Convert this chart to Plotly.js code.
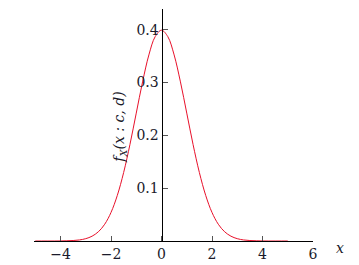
<!DOCTYPE html>
<html>
<head>
<meta charset="utf-8">
<script src="https://cdn.plot.ly/plotly-3.0.1.min.js"></script>
<style>html,body{margin:0;padding:0;background:#fff;}#chart{width:359px;height:265px;}</style>
</head>
<body>
<div id="chart"></div>
<script>
// Values (density curve)
const xValues = [-5, -4.75, -4.5, -4.25, -4, -3.75, -3.5, -3.25, -3, -2.75, -2.5, -2.25, -2, -1.75, -1.5, -1.25, -1, -0.75, -0.5, -0.25, 0,
                 0.25, 0.5, 0.75, 1, 1.25, 1.5, 1.75, 2, 2.25, 2.5, 2.75, 3, 3.25, 3.5, 3.75, 4, 4.25, 4.5, 4.75, 5];
const yValues = [0.0000, 0.0000, 0.0000, 0.0000, 0.0001, 0.0004, 0.0009, 0.0020, 0.0044, 0.0091, 0.0175, 0.0317, 0.0540, 0.0863, 0.1295, 0.1826, 0.2420, 0.3011, 0.3521, 0.3867, 0.3989,
                 0.3867, 0.3521, 0.3011, 0.2420, 0.1826, 0.1295, 0.0863, 0.0540, 0.0317, 0.0175, 0.0091, 0.0044, 0.0020, 0.0009, 0.0004, 0.0001, 0.0000, 0.0000, 0.0000, 0.0000];
const xTicks = [-4, -2, 0, 2, 4, 6];
const xTickText = ['\u22124', '\u22122', '0', '2', '4', '6'];
const yTicks = [0.1, 0.2, 0.3, 0.4];
const yTickText = ['0.1', '0.2', '0.3', '0.4'];
const xLabel = 'x';
const yLabel = 'f<sub>X</sub>(x : c, d)';

const fam = 'DejaVu Serif';
const font = {family: fam, size: 14, color: '#1a1a2a'};
const xMin = -5.05, xMax = 6;
const trace = {
  x: xValues, y: yValues, type: 'scatter', mode: 'lines',
  line: {color: '#e8102a', width: 1, shape: 'spline'},
  hoverinfo: 'skip'
};
const layout = {
  width: 359, height: 265,
  margin: {l: 34, r: 46, t: 9, b: 24},
  paper_bgcolor: '#fff', plot_bgcolor: '#fff',
  showlegend: false,
  font: font,
  xaxis: {
    range: [xMin, xMax], tickvals: xTicks, ticktext: xTickText,
    showgrid: false, zeroline: false, showline: true, linecolor: '#000', linewidth: 1,
    ticks: 'inside', ticklen: 5, tickcolor: '#555', tickwidth: 1,
    tickfont: font, fixedrange: true
  },
  yaxis: {
    range: [0, 0.439], tickvals: yTicks, ticktext: yTickText,
    showgrid: false, zeroline: false, showline: true, linecolor: '#000', linewidth: 1,
    anchor: 'free', position: (0 - xMin) / (xMax - xMin), side: 'left',
    ticks: 'inside', ticklen: 5, tickcolor: '#555', tickwidth: 1,
    tickfont: font, fixedrange: true
  },
  annotations: [
    {text: '<i>' + yLabel + '</i>', xref: 'paper', yref: 'paper', x: 0.27, y: 0.49,
     textangle: -90, showarrow: false, font: {family: fam, size: 14, color: '#1a1a2a'}},
    {text: '<i>' + xLabel + '</i>', xref: 'paper', yref: 'paper', x: 1.12, y: -0.075,
     showarrow: false, font: {family: fam, size: 14, color: '#1a1a2a'}}
  ]
};
Plotly.newPlot('chart', [trace], layout, {staticPlot: true, displayModeBar: false});
</script>
</body>
</html>
